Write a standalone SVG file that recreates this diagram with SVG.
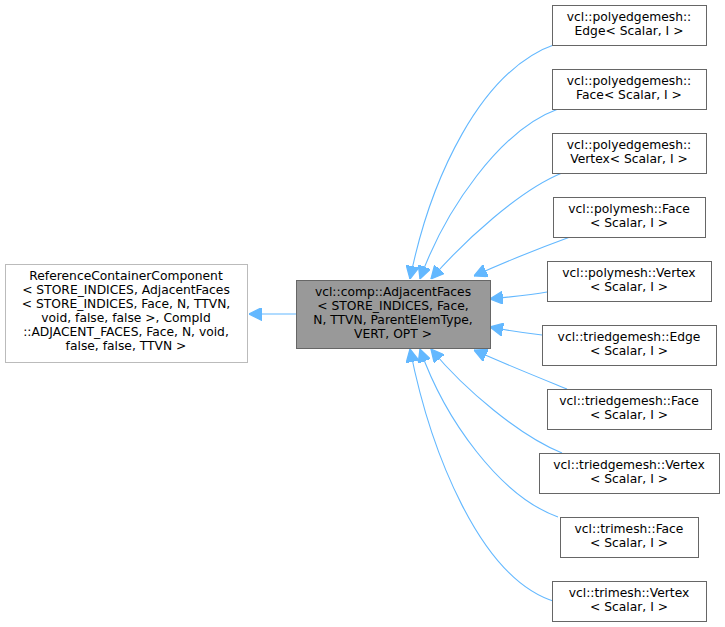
<svg xmlns="http://www.w3.org/2000/svg" width="725" height="627" viewBox="0 0 725 627">
<style>
text{font-family:"DejaVu Sans",sans-serif;font-size:12.3px;fill:#000;text-anchor:middle}
.n rect{fill:#fff;stroke:#666;stroke-width:1}
.e path{fill:none;stroke:#63b8ff;stroke-width:1.1}
</style>
<defs><marker id="a" viewBox="0 0 10 10" refX="10" refY="5" markerWidth="13" markerHeight="13" markerUnits="userSpaceOnUse" orient="auto"><path d="M0,0L10,5L0,10z" fill="#63b8ff" stroke="#63b8ff"/></marker></defs>
<rect width="725" height="627" fill="#fff"/>
<g class="e">
<path d="M296,314H249" marker-end="url(#a)"/>
<path d="M556,44C480,70 430,180 410,279" marker-end="url(#a)"/>
<path d="M558,109C500,130 445,210 420,279" marker-end="url(#a)"/>
<path d="M562,173C520,190 465,240 431,279" marker-end="url(#a)"/>
<path d="M570,237C540,248 505,262 474,276" marker-end="url(#a)"/>
<path d="M547,292C530,295 510,297 490,299" marker-end="url(#a)"/>
<path d="M542,335C525,333 510,331 490,327" marker-end="url(#a)"/>
<path d="M567,389C540,378 505,364 474,350" marker-end="url(#a)"/>
<path d="M562,453C520,436 465,390 431,349" marker-end="url(#a)"/>
<path d="M558,517C500,496 445,420 420,349" marker-end="url(#a)"/>
<path d="M556,602C480,580 430,450 410,349" marker-end="url(#a)"/>
</g>
<g id="left" class="n"><rect x="5.5" y="264.5" width="242" height="98" style="stroke:#bbb"/>
<text x="126" y="280">ReferenceContainerComponent</text><text x="126" y="294">&lt; STORE_INDICES, AdjacentFaces</text><text x="126" y="308">&lt; STORE_INDICES, Face, N, TTVN,</text><text x="126" y="322"> void, false, false &gt;, CompId</text><text x="126" y="336">::ADJACENT_FACES, Face, N, void,</text><text x="126" y="350">false, false, TTVN &gt;</text></g>
<g id="center" class="n"><rect x="296.5" y="280.5" width="194" height="68" style="fill:#999;stroke:#666"/>
<text x="393" y="296">vcl::comp::AdjacentFaces</text><text x="393" y="310">&lt; STORE_INDICES, Face,</text><text x="393" y="324"> N, TTVN, ParentElemType,</text><text x="393" y="338">VERT, OPT &gt;</text></g>
<g id="n1" class="n"><rect x="552.5" y="5.5" width="154" height="40"/><text x="629" y="21">vcl::polyedgemesh::</text><text x="629" y="35">Edge&lt; Scalar, I &gt;</text></g>
<g id="n2" class="n"><rect x="552.5" y="69.5" width="154" height="40"/><text x="629" y="85">vcl::polyedgemesh::</text><text x="629" y="99">Face&lt; Scalar, I &gt;</text></g>
<g id="n3" class="n"><rect x="552.5" y="133.5" width="154" height="40"/><text x="629" y="149">vcl::polyedgemesh::</text><text x="629" y="163">Vertex&lt; Scalar, I &gt;</text></g>
<g id="n4" class="n"><rect x="553.5" y="197.5" width="152" height="40"/><text x="629" y="213">vcl::polymesh::Face</text><text x="629" y="227">&lt; Scalar, I &gt;</text></g>
<g id="n5" class="n"><rect x="547.5" y="261.5" width="164" height="40"/><text x="629" y="277">vcl::polymesh::Vertex</text><text x="629" y="291">&lt; Scalar, I &gt;</text></g>
<g id="n6" class="n"><rect x="542.5" y="325.5" width="174" height="40"/><text x="629" y="341">vcl::triedgemesh::Edge</text><text x="629" y="355">&lt; Scalar, I &gt;</text></g>
<g id="n7" class="n"><rect x="547.5" y="389.5" width="164" height="40"/><text x="629" y="405">vcl::triedgemesh::Face</text><text x="629" y="419">&lt; Scalar, I &gt;</text></g>
<g id="n8" class="n"><rect x="539.5" y="453.5" width="180" height="40"/><text x="629" y="469">vcl::triedgemesh::Vertex</text><text x="629" y="483">&lt; Scalar, I &gt;</text></g>
<g id="n9" class="n"><rect x="560.5" y="517.5" width="138" height="40"/><text x="629" y="533">vcl::trimesh::Face</text><text x="629" y="547">&lt; Scalar, I &gt;</text></g>
<g id="n10" class="n"><rect x="552.5" y="581.5" width="154" height="40"/><text x="629" y="597">vcl::trimesh::Vertex</text><text x="629" y="611">&lt; Scalar, I &gt;</text></g>
</svg>
